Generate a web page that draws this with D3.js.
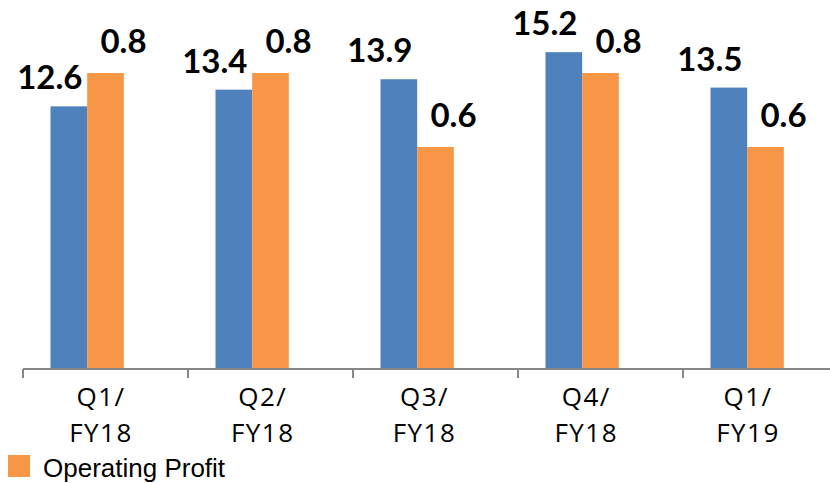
<!DOCTYPE html>
<html>
<head>
<meta charset="utf-8">
<script src="https://cdnjs.cloudflare.com/ajax/libs/d3/7.8.5/d3.min.js"></script>
<style>
  body { margin: 0; background: #fff; }
  svg { display: block; }
</style>
</head>
<body>
<div id="chart"></div>
<script>
var quarters = ['Q1/FY18', 'Q2/FY18', 'Q3/FY18', 'Q4/FY18', 'Q1/FY19']
var revenue = [12.6, 13.4, 13.9, 15.2, 13.5]
var opProfit = [0.8, 0.8, 0.6, 0.8, 0.6]
var seriesSlots = ['revenue', 'opProfit', 'spare']

var width = 830, height = 483
var baseY = 369

var svg = d3.select('#chart').append('svg')
  .attr('width', width)
  .attr('height', height)

// categories run past the right edge, as in the source
var x = d3.scaleBand().domain(quarters).range([23, 848])
var xs = d3.scaleBand().domain(seriesSlots).range([0, x.bandwidth()])
  .paddingInner(0).paddingOuter(0.75)
var yRev = d3.scaleLinear().domain([0, 17.75]).range([baseY, -1])
var yOp = d3.scaleLinear().domain([0, 1]).range([baseY, -1])

var blue = '#4f81bd', orange = '#f79646'

var groups = svg.selectAll('g.q')
  .data(quarters)
  .enter().append('g')
  .attr('class', 'q')
  .attr('transform', function (d) { return 'translate(' + x(d) + ',0)' })

groups.append('rect')
  .attr('x', xs('revenue'))
  .attr('width', xs.bandwidth())
  .attr('y', function (d, i) { return yRev(revenue[i]) })
  .attr('height', function (d, i) { return baseY - yRev(revenue[i]) })
  .attr('fill', blue)

groups.append('rect')
  .attr('x', xs('opProfit'))
  .attr('width', xs.bandwidth())
  .attr('y', function (d, i) { return yOp(opProfit[i]) })
  .attr('height', function (d, i) { return baseY - yOp(opProfit[i]) })
  .attr('fill', orange)

var labelFont = 'Lato, "Open Sans", sans-serif'

groups.append('text')
  .attr('x', xs('revenue') + xs.bandwidth() / 2 - 19)
  .attr('y', function (d, i) { return yRev(revenue[i]) - 17 })
  .attr('text-anchor', 'middle')
  .style('font-family', labelFont)
  .style('font-weight', 'bold')
  .style('font-size', '33px')
  .text(function (d, i) { return revenue[i].toFixed(1) })

groups.append('text')
  .attr('x', xs('opProfit') + xs.bandwidth() / 2 + 18)
  .attr('y', function (d, i) { return yOp(opProfit[i]) - 20 })
  .attr('text-anchor', 'middle')
  .style('font-family', labelFont)
  .style('font-weight', 'bold')
  .style('font-size', '33px')
  .text(function (d, i) { return opProfit[i].toFixed(1) })

// x axis
var axis = svg.append('g').attr('transform', 'translate(0,' + baseY + ')')
axis.append('line')
  .attr('x1', 23).attr('x2', width)
  .attr('stroke', '#868686').attr('stroke-width', 2)
axis.selectAll('line.tick')
  .data(quarters.concat(['end']))
  .enter().append('line')
  .attr('class', 'tick')
  .attr('x1', function (d, i) { return 23 + i * x.step() })
  .attr('x2', function (d, i) { return 23 + i * x.step() })
  .attr('y1', 0).attr('y2', 9)
  .attr('stroke', '#868686').attr('stroke-width', 2)

var xLabel = d3.scalePoint().domain(quarters).range([101, 748])
var ticks = axis.selectAll('text.cat')
  .data(quarters)
  .enter().append('text')
  .attr('class', 'cat')
  .attr('text-anchor', 'middle')
  .style('font-family', '"Open Sans", sans-serif')
  .style('font-size', '26px')
  .style('letter-spacing', '1.5px')
  .attr('fill', '#000')
ticks.each(function (d) {
  var parts = d.split('/')
  var t = d3.select(this)
  t.append('tspan').attr('x', xLabel(d)).attr('y', 37).text(parts[0] + '/')
  t.append('tspan').attr('x', xLabel(d)).attr('y', 73).text(parts[1])
})

// legend (only the visible entry)
var legend = svg.append('g')
legend.append('rect')
  .attr('x', 8).attr('y', 455).attr('width', 22).attr('height', 22)
  .attr('fill', orange)
legend.append('text')
  .attr('x', 43).attr('y', 477)
  .style('font-family', '"Liberation Sans", Arial, sans-serif')
  .style('font-size', '26px')
  .text('Operating Profit')
</script>
</body>
</html>
